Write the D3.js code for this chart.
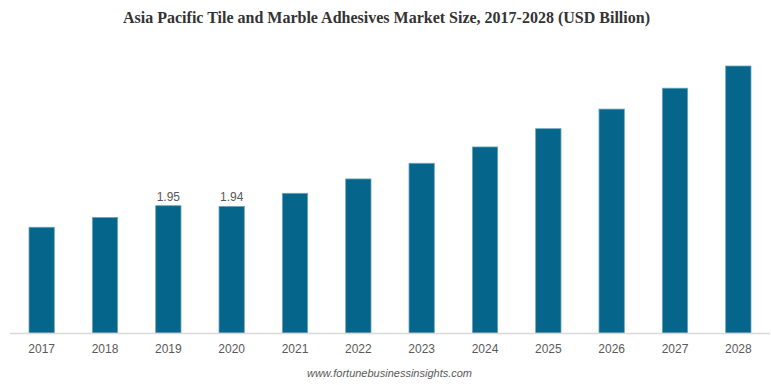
<!DOCTYPE html>
<html>
<head>
<meta charset="utf-8">
<script src="https://cdn.jsdelivr.net/npm/d3@7"></script>
<style>
  body { margin: 0; background: #fff; }
</style>
</head>
<body>
<svg id="chart" width="771" height="385"></svg>
<script>
// chart data
var years = ["2017", "2018", "2019", "2020", "2021", "2022", "2023", "2024", "2025", "2026", "2027", "2028"];
var marketSize = [1.62, 1.77, 1.95, 1.94, 2.14, 2.36, 2.60, 2.85, 3.13, 3.43, 3.75, 4.09];
var labelledYears = ["2019", "2020"];

var svg = d3.select("#chart");

var width = 771, height = 385;
var x0 = 10, x1 = 770; // plot left / right
var yBase = 333, yTop = 66; // baseline / top of tallest bar

var x = d3.scaleBand()
    .domain(years)
    .range([x0, x1])
    .paddingInner(0.6)
    .paddingOuter(0.3);

var y = d3.scaleLinear()
    .domain([0, 4.09])
    .range([yBase, yTop]);

// title
svg.append("text")
    .attr("x", width / 2 + 1)
    .attr("y", 23)
    .attr("text-anchor", "middle")
    .style("font-family", "'Liberation Serif', 'Times New Roman', serif")
    .style("font-weight", "bold")
    .style("font-size", "16px")
    .style("fill", "#333")
    .text("Asia Pacific Tile and Marble Adhesives Market Size, 2017-2028 (USD Billion)");

var data = years.map(function(d, i) { return {year: d, value: marketSize[i]}; });

// bars
svg.append("g")
    .selectAll("rect")
    .data(data)
    .enter()
    .append("rect")
    .attr("x", function(d) { return x(d.year); })
    .attr("y", function(d) { return y(d.value); })
    .attr("width", x.bandwidth())
    .attr("height", function(d) { return yBase - y(d.value); })
    .style("fill", "#05658a")
    .style("stroke", "#6ea5bd")
    .style("stroke-width", 0.8);

// x axis
var xAxis = svg.append("g")
    .attr("transform", "translate(0," + yBase + ")")
    .call(d3.axisBottom(x).tickSize(0).tickPadding(11));

xAxis.select(".domain")
    .attr("d", "M" + x0 + ",0.5H" + x1)
    .style("stroke", "#d9d9d9")
    .style("stroke-width", 1.5);

xAxis.selectAll("text")
    .style("font-family", "'Liberation Sans', Arial, sans-serif")
    .style("font-size", "12px")
    .style("fill", "#595959");

// value labels (only some years are labelled)
svg.append("g")
    .selectAll("text")
    .data(data.filter(function(d) { return labelledYears.indexOf(d.year) >= 0; }))
    .enter()
    .append("text")
    .attr("x", function(d) { return x(d.year) + x.bandwidth() / 2; })
    .attr("y", function(d) { return y(d.value) - 5; })
    .attr("text-anchor", "middle")
    .style("font-family", "'Liberation Sans', Arial, sans-serif")
    .style("font-size", "12px")
    .style("fill", "#595959")
    .text(function(d) { return d3.format(".2f")(d.value); });

// source
svg.append("text")
    .attr("x", width / 2 + 4)
    .attr("y", 377)
    .attr("text-anchor", "middle")
    .style("font-family", "'Liberation Sans', Arial, sans-serif")
    .style("font-style", "italic")
    .style("font-size", "11px")
    .style("fill", "#595959")
    .text("www.fortunebusinessinsights.com");
</script>
</body>
</html>
